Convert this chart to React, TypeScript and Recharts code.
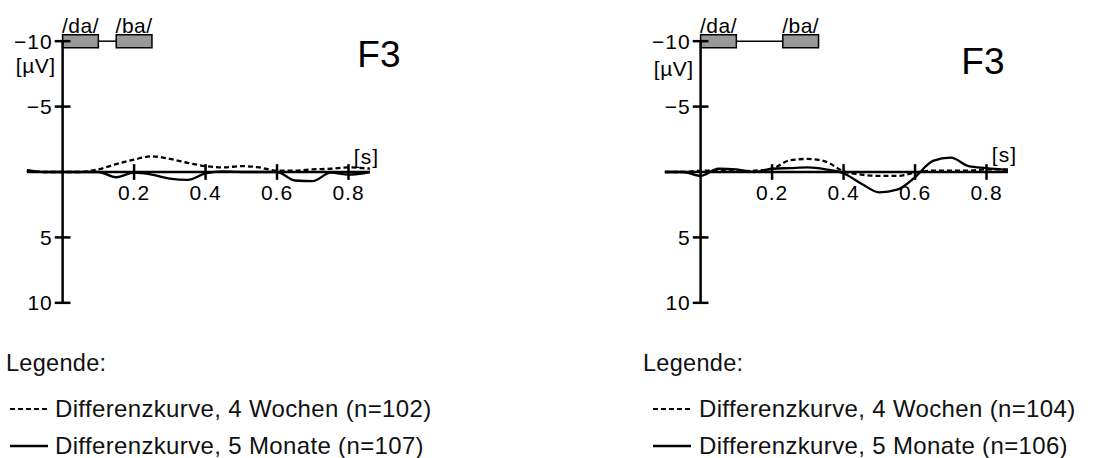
import { LineChart, Line, XAxis, YAxis, ReferenceLine, ReferenceArea, ReferenceDot, Legend } from 'recharts'

// time points (s) and difference waves (µV, negative plotted upwards)
const times = [-0.1, -0.05, 0, 0.05, 0.1, 0.15, 0.2, 0.25, 0.3, 0.35, 0.4, 0.45, 0.5, 0.55, 0.6, 0.65, 0.7, 0.75, 0.8, 0.86]

const leftWochen = [-0.1, 0, 0, 0, -0.2, -0.6, -0.95, -1.2, -1.0, -0.7, -0.45, -0.35, -0.45, -0.35, -0.1, -0.1, -0.2, -0.25, -0.35, -0.25]
const leftMonate = [-0.15, 0, 0, 0, 0, 0.4, 0.05, 0.2, 0.5, 0.6, 0.1, -0.05, 0, 0, 0, 0.65, 0.7, 0.05, 0.2, 0]

const rightWochen = [0, 0, -0.1, -0.1, -0.05, -0.1, -0.25, -0.9, -1.0, -0.8, -0.05, 0.2, 0.3, 0.3, 0.05, -0.1, -0.1, -0.1, -0.2, -0.2]
const rightMonate = [0, 0, 0.3, -0.25, -0.2, 0, -0.25, -0.3, -0.35, -0.2, 0.1, 0.9, 1.55, 1.35, 0.4, -0.85, -1.1, -0.45, -0.3, -0.15]

const xTicks = [0.2, 0.4, 0.6, 0.8]
const xTickLabels = ['0.2', '0.4', '0.6', '0.8']
const yTicks = [-10, -5, 5, 10]
const yTickLabels = ['−10', '−5', '5', '10']

const panels = [
  { left: 0, width: 554, wochen: leftWochen, monate: leftMonate, nW: 102, nM: 107, ba: [0.15, 0.25], f3: [0.885, -9.05], uv: -8.1, s: [0.85, -1.2], indent: 10, gap: 7, legendLeft: 6 },
  { left: 638, width: 470, wochen: rightWochen, monate: rightMonate, nW: 104, nM: 106, ba: [0.23, 0.33], f3: [0.79, -8.5], uv: -7.9, s: [0.85, -1.33], indent: 15, gap: 8, legendLeft: 5 },
]

function LegendBlock({ payload, indent, gap, legendLeft }: any) {
  return (
    <div style={{ position: 'relative', color: '#111' }}>
      <div style={{ fontSize: 23.5, letterSpacing: 0.3, lineHeight: '30px', height: 30, marginLeft: legendLeft - indent, marginBottom: 12 }}>Legende:</div>
      {(payload || []).map((entry: any) => (
        <div key={entry.value} style={{ display: 'flex', alignItems: 'center', height: 37, fontSize: 24, letterSpacing: 0.35, whiteSpace: 'nowrap' }}>
          <svg width={38} height={4} style={{ marginRight: gap }}>
            <line x1={0} y1={2} x2={38} y2={2} stroke="#000" strokeWidth={entry.payload?.strokeDasharray ? 2 : 2.5}
              strokeDasharray={entry.payload?.strokeDasharray} />
          </svg>
          <span>{entry.value}</span>
        </div>
      ))}
    </div>
  )
}

function Panel({ cfg }: any) {
  const data = times.map((t, i) => ({ t, w: cfg.wochen[i], m: cfg.monate[i] }))
  const lbl = { fontSize: 21, letterSpacing: 1, fill: '#000' }
  return (
    <div style={{ position: 'absolute', left: cfg.left, top: 0 }}>
      <LineChart width={cfg.width} height={458} data={data} margin={{ top: 15, left: 9, right: cfg.width - 9 - 411, bottom: 129 }}>
        <XAxis dataKey="t" type="number" domain={[-0.15, 1.0]} hide />
        <YAxis type="number" domain={[-12, 12]} reversed hide />

        <ReferenceLine segment={[{ x: -0.1, y: 0 }, { x: 0.86, y: 0 }]} stroke="#000" strokeWidth={2.5} />
        <ReferenceLine segment={[{ x: 0, y: -10 }, { x: 0, y: 10 }]} stroke="#000" strokeWidth={2.5} />
        {xTicks.map((t, i) => (
          <ReferenceLine key={'x' + t} segment={[{ x: t, y: -0.6 }, { x: t, y: 0.6 }]} stroke="#000" strokeWidth={2.5}
            label={{ value: xTickLabels[i], position: 'bottom', offset: 5, ...lbl }} />
        ))}
        {yTicks.map((v, i) => (
          <ReferenceLine key={'y' + v} segment={[{ x: -0.022, y: v }, { x: 0.022, y: v }]} stroke="#000" strokeWidth={2.5}
            label={{ value: yTickLabels[i], position: 'left', offset: 2, ...lbl }} />
        ))}

        <ReferenceLine segment={[{ x: 0.1, y: -10 }, { x: cfg.ba[0], y: -10 }]} stroke="#000" strokeWidth={1.5} />
        <ReferenceArea x1={0} x2={0.1} y1={-10.5} y2={-9.5} fill="#999" fillOpacity={1} stroke="#000" strokeWidth={1.5}
          label={{ value: '/da/', position: 'top', offset: 2, ...lbl, letterSpacing: 0.5 }} />
        <ReferenceArea x1={cfg.ba[0]} x2={cfg.ba[1]} y1={-10.5} y2={-9.5} fill="#999" fillOpacity={1} stroke="#000" strokeWidth={1.5}
          label={{ value: '/ba/', position: 'top', offset: 2, ...lbl, letterSpacing: 0.5 }} />

        <ReferenceDot x={0} y={cfg.uv} r={0} stroke="none" fill="none" label={{ value: '[µV]', position: 'left', offset: 7, ...lbl, letterSpacing: 0.5 }} />
        <ReferenceDot x={cfg.s[0]} y={cfg.s[1]} r={0} stroke="none" fill="none" label={{ value: '[s]', position: 'center', ...lbl }} />
        <ReferenceDot x={cfg.f3[0]} y={cfg.f3[1]} r={0} stroke="none" fill="none" label={{ value: 'F3', position: 'center', fontSize: 37, fill: '#000' }} />

        <Line type="monotone" dataKey="w" name={`Differenzkurve, 4 Wochen (n=${cfg.nW})`} stroke="#000" strokeWidth={2.3}
          strokeDasharray="5 3" dot={false} isAnimationActive={false} />
        <Line type="monotone" dataKey="m" name={`Differenzkurve, 5 Monate (n=${cfg.nM})`} stroke="#000" strokeWidth={2.3}
          dot={false} isAnimationActive={false} />

        <Legend layout="vertical" align="center" verticalAlign="middle"
          wrapperStyle={{ left: cfg.indent, top: 348, width: cfg.width - cfg.indent }}
          content={(p: any) => <LegendBlock payload={p.payload} indent={cfg.indent} gap={cfg.gap} legendLeft={cfg.legendLeft} />} />
      </LineChart>
    </div>
  )
}

export default function App() {
  return (
    <div style={{ position: 'absolute', left: 0, top: 0, width: 1108, height: 458, background: '#fff', fontFamily: '"Liberation Sans", Arial, sans-serif' }}>
      {panels.map((cfg, i) => <Panel key={i} cfg={cfg} />)}
    </div>
  )
}
